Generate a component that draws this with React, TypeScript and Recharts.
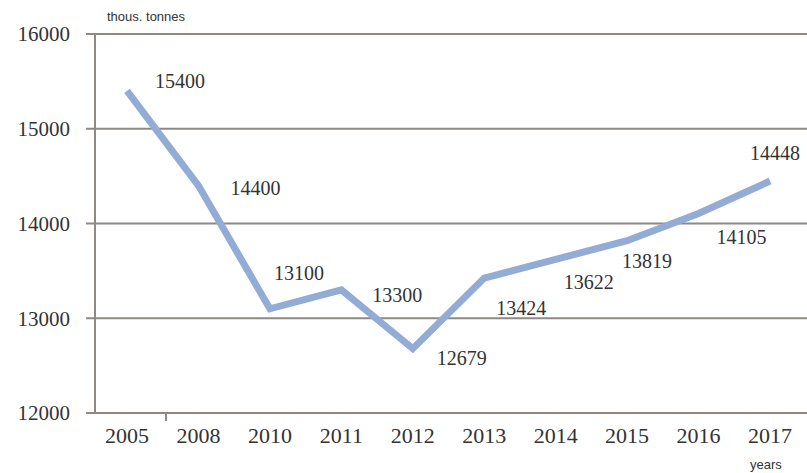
import { LineChart, Line, XAxis, YAxis, CartesianGrid, LabelList } from 'recharts';

const years = ['2005', '2008', '2010', '2011', '2012', '2013', '2014', '2015', '2016', '2017'];
const production = [15400, 14400, 13100, 13300, 12679, 13424, 13622, 13819, 14105, 14448];
const yTicks = [12000, 13000, 14000, 15000, 16000];

// where each value label sits relative to its point (dx, dy of text centre)
const labelOffsets: [number, number][] = [
  [53, -10], [57, 2], [29, -36], [56, 5], [49, 9],
  [37, 30], [33, 23], [20, 20], [43, 23], [5, -28],
];

const data = years.map((year, i) => ({ year, value: production[i] }));

const GRID = '#8e8983';
const INK = '#333333';
const SERIF = '"Liberation Serif", "DejaVu Serif", serif';
const SANS = '"Liberation Sans", Arial, sans-serif';

// eslint-disable-next-line @typescript-eslint/no-explicit-any
const ValueLabel = (props: any) => {
  const { x, y, value, index } = props;
  const [dx, dy] = labelOffsets[index] ?? [0, -15];
  return (
    <text
      x={x + dx}
      y={y + dy}
      textAnchor="middle"
      dominantBaseline="central"
      fontFamily={SERIF}
      fontSize={20}
      fill={INK}
    >
      {value}
    </text>
  );
};

export default function App() {
  return (
    <div style={{ position: 'absolute', left: 0, top: 0, width: 807, height: 473, background: '#fff' }}>
      <LineChart
        width={807}
        height={473}
        data={data}
        margin={{ top: 34, right: 0, bottom: 0, left: 0 }}
      >
        <CartesianGrid vertical={false} stroke={GRID} strokeWidth={2} />
        <XAxis
          dataKey="year"
          padding={{ left: 32, right: 37 }}
          height={60}
          axisLine={{ stroke: GRID, strokeWidth: 2 }}
          tickLine={false}
          tickSize={6}
          tickMargin={8}
          interval={0}
          tick={{ fontFamily: SERIF, fontSize: 22, fill: INK }}
        />
        <YAxis
          domain={[12000, 16000]}
          ticks={yTicks}
          width={95}
          axisLine={{ stroke: GRID, strokeWidth: 2 }}
          tickLine={{ stroke: GRID, strokeWidth: 2 }}
          tickSize={9}
          tickMargin={16}
          tick={{ fontFamily: SERIF, fontSize: 21, fill: INK }}
        />
        <Line
          type="linear"
          dataKey="value"
          stroke="#92acd6"
          strokeWidth={7}
          dot={false}
          activeDot={false}
          isAnimationActive={false}
        >
          <LabelList dataKey="value" content={<ValueLabel />} />
        </Line>
        <line x1={166} y1={413} x2={166} y2={421} stroke={GRID} strokeWidth={2} />
        <text x={107} y={21} fontFamily={SANS} fontSize={13} fill={INK}>
          thous. tonnes
        </text>
        <text x={750} y={469} fontFamily={SANS} fontSize={13} fill={INK}>
          years
        </text>
      </LineChart>
    </div>
  );
}
